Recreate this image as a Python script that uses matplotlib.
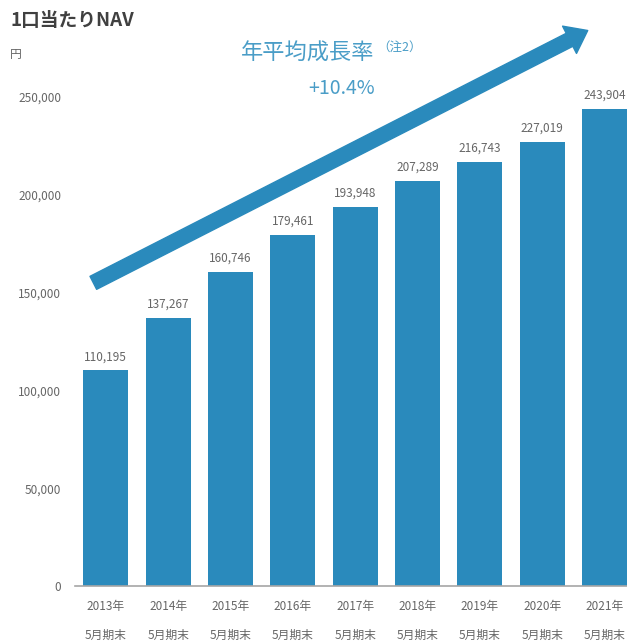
import matplotlib.pyplot as plt
from matplotlib.patches import FancyArrowPatch
import numpy as np

plt.rcParams['font.family'] = ['Noto Sans CJK JP', 'DejaVu Sans']

# data
years = ['2013年', '2014年', '2015年', '2016年', '2017年', '2018年', '2019年', '2020年', '2021年']
period = '5月期末'
nav = [110195, 137267, 160746, 179461, 193948, 207289, 216743, 227019, 243904]
y_ticks = [0, 50000, 100000, 150000, 200000, 250000]

bar_color = '#2a8abc'
text_blue = '#4a9dc7'
gray = '#666666'

fig = plt.figure(figsize=(6.27, 6.41), dpi=100)
ax = fig.add_axes([0.12, 0.0858, 0.88, 0.9142])

x = np.arange(len(nav))
ax.bar(x, nav, width=0.72, color=bar_color, zorder=2)

for xi, v in zip(x, nav):
    ax.annotate(f'{v:,}', (xi, v), xytext=(0, 5), textcoords='offset points',
                ha='center', va='bottom', fontsize=8.5, color=gray)

ax.set_xlim(-0.49, 8.36)
ax.set_ylim(0, 299600)
ax.set_yticks(y_ticks)
ax.set_yticklabels([f'{t:,}' for t in y_ticks], fontsize=8.5, color=gray)
ax.set_xticks(x)
ax.set_xticklabels([f'{y}\n{period}' for y in years], fontsize=8.5, color=gray,
                   linespacing=2.6)
ax.tick_params(axis='y', length=0, pad=10)
ax.tick_params(axis='x', length=0, pad=10)

for s in ['top', 'right', 'left']:
    ax.spines[s].set_visible(False)
ax.spines['bottom'].set_color('#a6a6a6')
ax.spines['bottom'].set_linewidth(1.2)

# growth arrow
arrow = FancyArrowPatch((-0.2, 155000), (7.73, 284000),
                        arrowstyle='simple,head_length=1.4,head_width=2.1,tail_width=1.0',
                        mutation_scale=10.5, color=bar_color, shrinkA=0, shrinkB=0,
                        clip_on=False, zorder=3)
ax.add_patch(arrow)

fig.text(0.016, 0.968, '1口当たりNAV', fontsize=13.5, fontweight='bold', color='#404040',
         ha='left', va='center')
fig.text(0.016, 0.915, '円', fontsize=8.5, color=gray, ha='left', va='center')

fig.text(0.49, 0.917, '年平均成長率', fontsize=16, color=text_blue, ha='center', va='center')
fig.text(0.601, 0.926, '（注2）', fontsize=9, color=text_blue, ha='left', va='center')
fig.text(0.544, 0.862, '+10.4%', fontsize=14, color=text_blue, ha='center', va='center')

fig.savefig('out.png', dpi=100)
